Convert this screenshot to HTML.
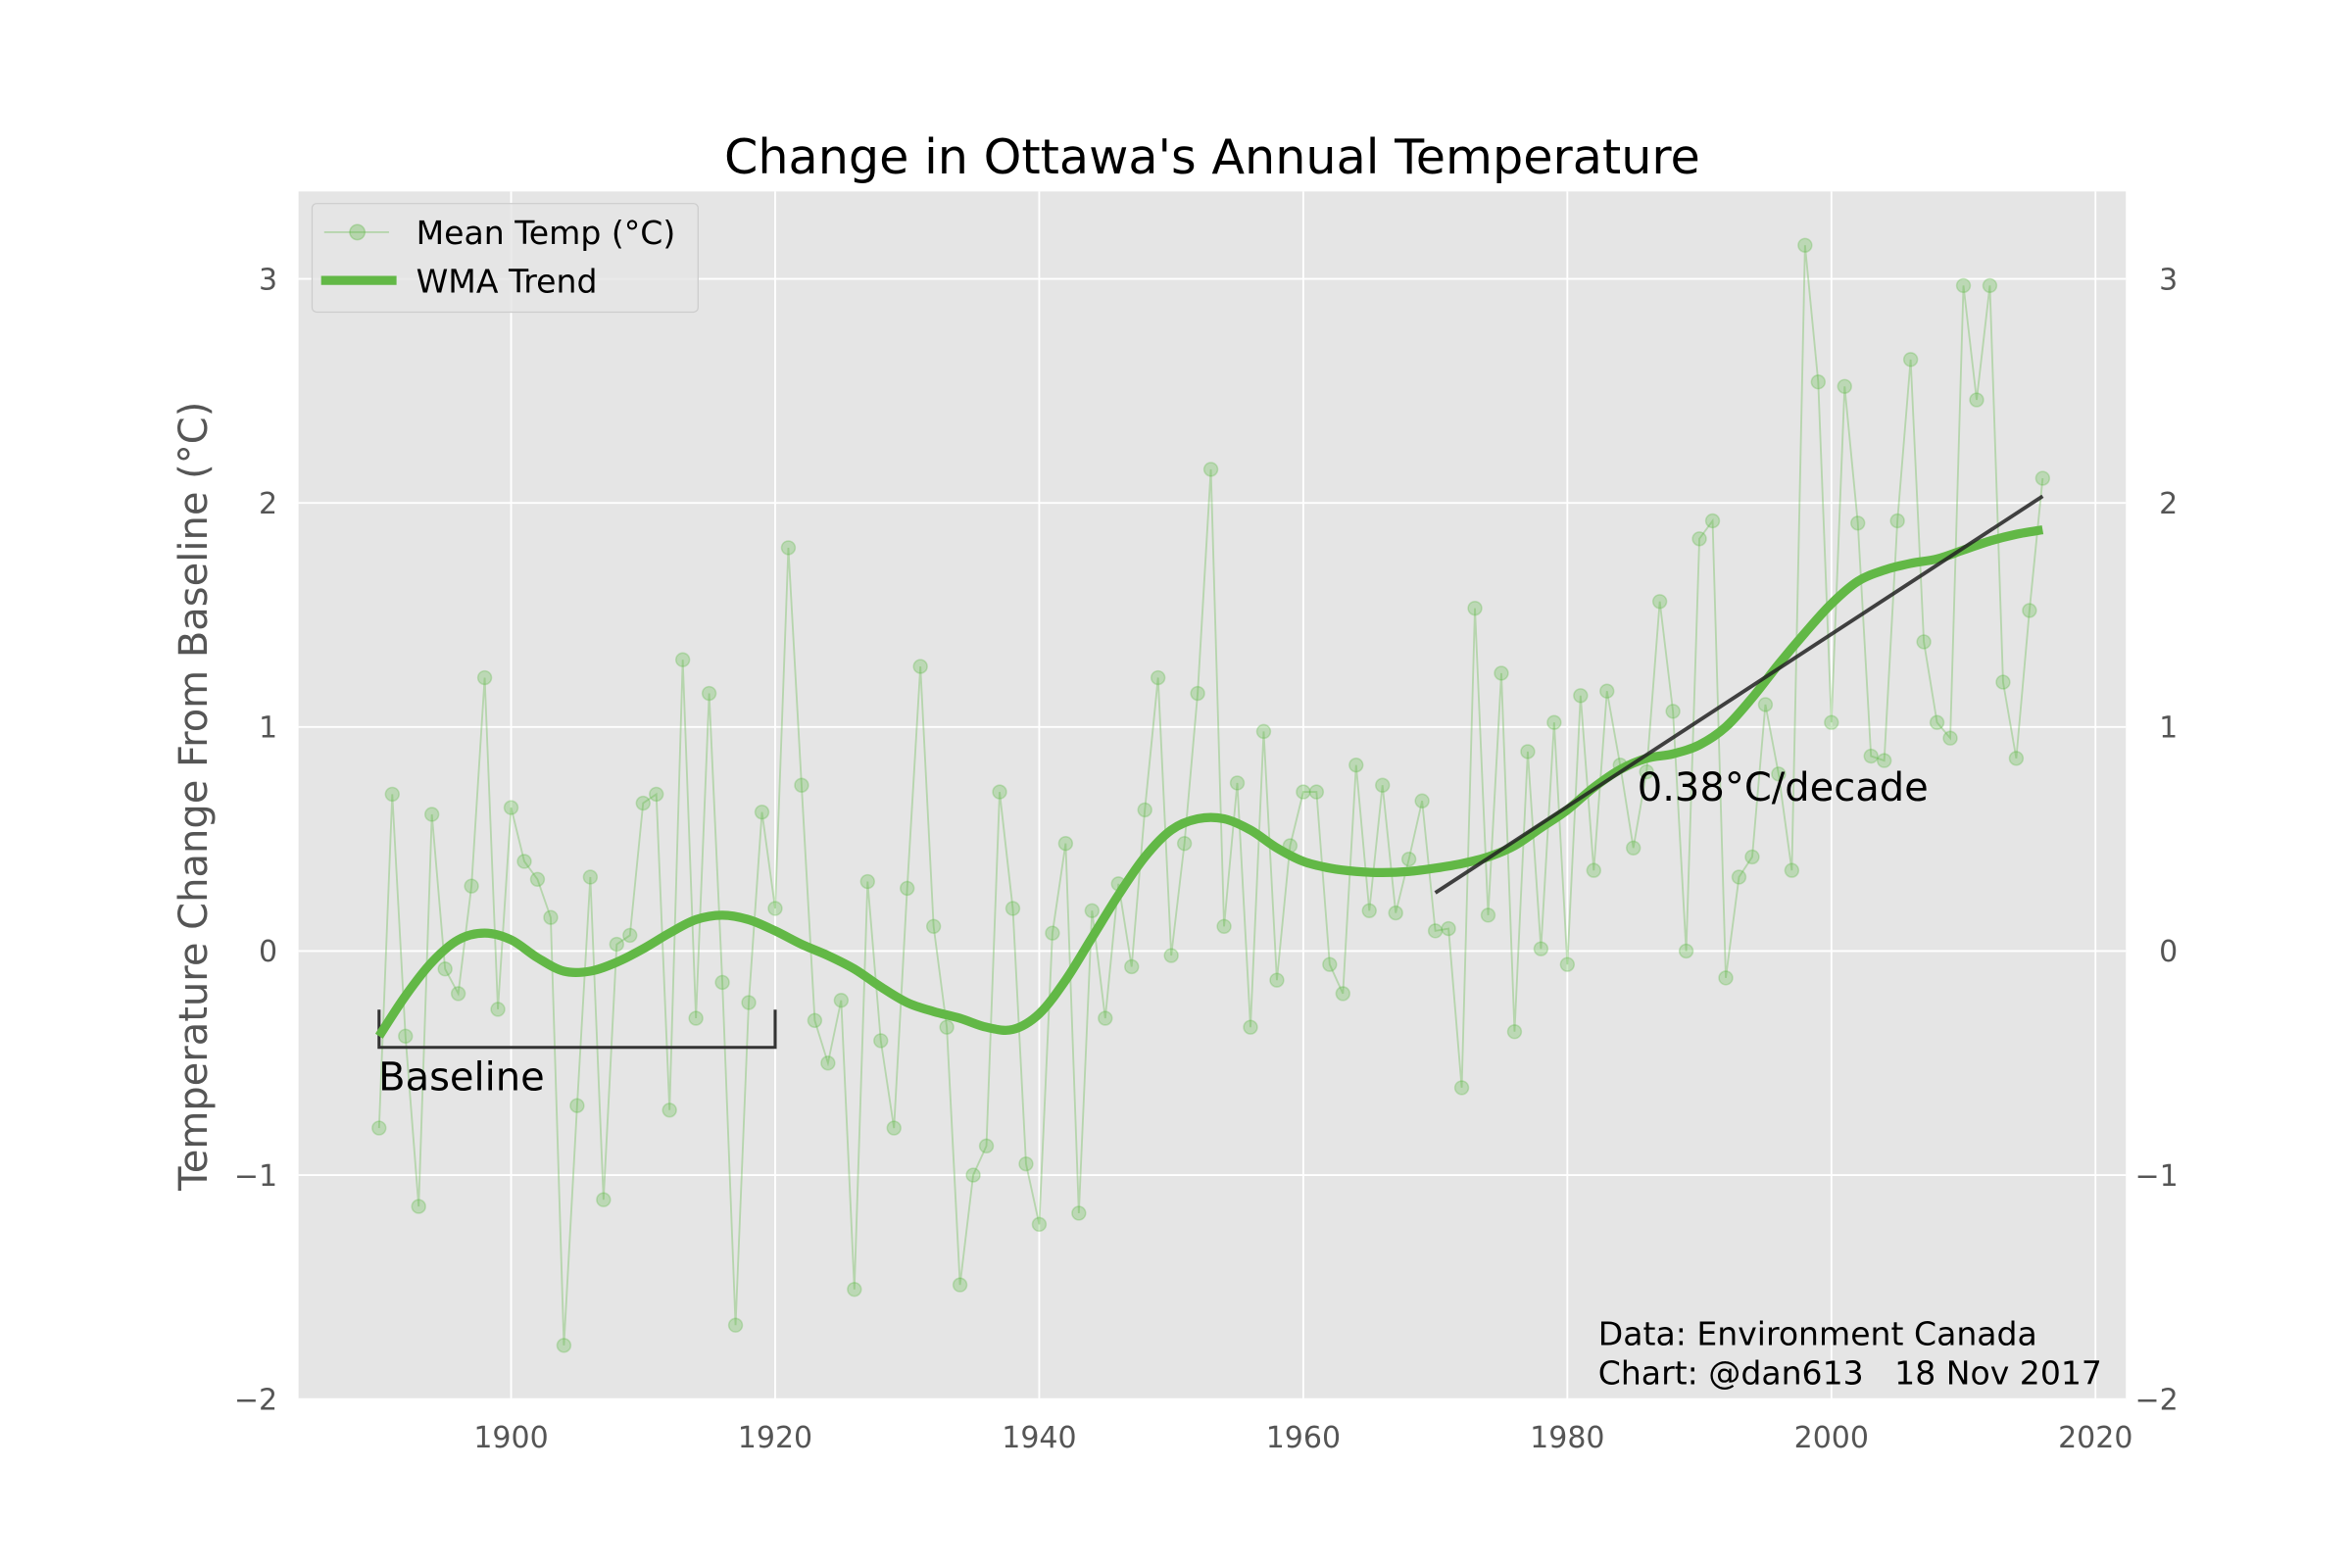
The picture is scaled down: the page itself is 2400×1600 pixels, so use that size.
<!DOCTYPE html>
<html><head><meta charset="utf-8"><style>
html,body{margin:0;padding:0;background:#fff;}
svg{display:block;font-family:"DejaVu Sans","Liberation Sans",sans-serif;}
</style></head><body>
<svg id="chart" width="2400" height="1600" viewBox="0 0 1560 1040" xmlns="http://www.w3.org/2000/svg">
<rect x="0" y="0" width="1560" height="1040" fill="#fff"/>
<text x="804" y="115" font-size="32" text-anchor="middle" fill="#000">Change in Ottawa's Annual Temperature</text>
<rect x="198" y="127" width="1212" height="801" fill="#e5e5e5"/>
<g id="grid"></g>
<g id="ticks"></g>
<g id="marks"></g>
<text transform="translate(137,528) rotate(-90)" font-size="26" text-anchor="middle" fill="#555">Temperature Change From Baseline (°C)</text>
<g id="legend">
<rect x="207" y="135" width="256" height="72" rx="3" fill="#e5e5e5" fill-opacity="0.8" stroke="#ccc" stroke-width="0.8"/>
<line x1="215" y1="154" x2="258" y2="154" stroke="#5eb844" stroke-opacity="0.35" stroke-width="1.2"/>
<circle cx="237" cy="154" r="5" fill="#5eb844" fill-opacity="0.35" stroke="#5eb844" stroke-opacity="0.35"/>
<text x="276" y="162" font-size="21.5" fill="#000">Mean Temp (°C)</text>
<line x1="213" y1="186" x2="263" y2="186" stroke="#62b846" stroke-width="6"/>
<text x="276" y="194" font-size="21.5" fill="#000">WMA Trend</text>
</g>
<text x="1086" y="531" font-size="26" fill="#000">0.38°C/decade</text>
<text x="251" y="723" font-size="26" fill="#000">Baseline</text>
<text x="1060" y="892" font-size="21.5" fill="#000">Data: Environment Canada</text>
<text x="1060" y="918" font-size="21.5" fill="#000" xml:space="preserve">Chart: @dan613   18 Nov 2017</text>
</svg>
<script>
const startYear = 1890;
const meanTemp = [-0.79,0.70,-0.38,-1.14,0.61,-0.08,-0.19,0.29,1.22,-0.26,
0.64,0.40,0.32,0.15,-1.76,-0.69,0.33,-1.11,0.03,0.07,
0.66,0.70,-0.71,1.30,-0.30,1.15,-0.14,-1.67,-0.23,0.62,
0.19,1.80,0.74,-0.31,-0.50,-0.22,-1.51,0.31,-0.40,-0.79,
0.28,1.27,0.11,-0.34,-1.49,-1.00,-0.87,0.71,0.19,-0.95,
-1.22,0.08,0.48,-1.17,0.18,-0.30,0.30,-0.07,0.63,1.22,
-0.02,0.48,1.15,2.15,0.11,0.75,-0.34,0.98,-0.13,0.47,
0.71,0.71,-0.06,-0.19,0.83,0.18,0.74,0.17,0.41,0.67,
0.09,0.10,-0.61,1.53,0.16,1.24,-0.36,0.89,0.01,1.02,
-0.06,1.14,0.36,1.16,0.83,0.46,0.80,1.56,1.07,0.00,
1.84,1.92,-0.12,0.33,0.42,1.10,0.79,0.36,3.15,2.54,
1.02,2.52,1.91,0.87,0.85,1.92,2.64,1.38,1.02,0.95,
2.97,2.46,2.97,1.20,0.86,1.52,2.11];
const trendYears = [1890,1892,1894,1896,1898,1900,1902,1904,1906,1908,1910,1912,1914,1916,1918,1920,1922,1924,1926,1928,1930,1932,1934,1936,1938,1940,1942,1944,1946,1948,1950,1952,1954,1956,1958,1960,1962,1964,1966,1968,1970,1972,1974,1976,1978,1980,1982,1984,1986,1988,1990,1992,1994,1996,1998,2000,2002,2004,2006,2008,2010,2012,2014,2016];
const trendValues = [-0.38,-0.2,-0.05,0.05,0.08,0.05,-0.03,-0.09,-0.09,-0.05,0.01,0.08,0.14,0.16,0.14,0.09,0.03,-0.02,-0.08,-0.16,-0.23,-0.27,-0.30,-0.34,-0.35,-0.28,-0.13,0.06,0.25,0.42,0.54,0.59,0.59,0.54,0.46,0.40,0.37,0.355,0.35,0.355,0.37,0.39,0.42,0.47,0.55,0.63,0.73,0.81,0.86,0.88,0.92,1.00,1.13,1.28,1.42,1.55,1.65,1.70,1.73,1.75,1.79,1.83,1.86,1.88];
const regression = [[1970,0.26],[2016,2.03]];
const baselineRange = [1890,1920];
const baselineLevel = -0.43;
const xTicks = [1900,1920,1940,1960,1980,2000,2020];
const yTicks = [-2,-1,0,1,2,3];

const NS="http://www.w3.org/2000/svg";
const X0=198,X1=1410,Y0=127,Y1=928;
const xMin=1883.9,xMax=2022.3,yMin=-2,yMax=3.39;
function sx(v){return X0+(v-xMin)/(xMax-xMin)*(X1-X0);}
function sy(v){return Y1-(v-yMin)/(yMax-yMin)*(Y1-Y0);}
function mk(tag,attrs,parent){const e=document.createElementNS(NS,tag);for(const k in attrs)e.setAttribute(k,attrs[k]);parent.appendChild(e);return e;}
const grid=document.getElementById('grid'),ticks=document.getElementById('ticks'),marks=document.getElementById('marks');
xTicks.forEach(t=>{
  const l=mk('line',{x1:sx(t),x2:sx(t),y1:Y0,y2:Y1,stroke:'#fff','stroke-width':1.2},grid);
  
  
  const tx=mk('text',{x:sx(t),y:Y1+32,'font-size':19.5,'text-anchor':'middle',fill:'#555'},ticks);
  tx.textContent=t;
  
  
});
yTicks.forEach(t=>{
  const l=mk('line',{x1:X0,x2:X1,y1:sy(t),y2:sy(t),stroke:'#fff','stroke-width':1.2},grid);
  
  
  const lab=t<0?'\u2212'+(-t):String(t);
  const a=mk('text',{x:184,y:sy(t)+7,'font-size':19.5,'text-anchor':'end',fill:'#555'},ticks);
  a.textContent=lab;
  
  
  const b=mk('text',{x:t<0?1416:1432,y:sy(t)+7,'font-size':19.5,'text-anchor':'start',fill:'#555'},ticks);
  b.textContent=lab;
  
  
});
const pts=meanTemp.map((v,i)=>[sx(startYear+i),sy(v)]);
const ml=mk('polyline',{points:pts.map(p=>p.join(',')).join(' '),fill:'none',stroke:'#5eb844','stroke-opacity':0.35,'stroke-width':1.2},marks);


pts.forEach(p=>{
  const c=mk('circle',{cx:p[0],cy:p[1],r:4.5,fill:'#5eb844','fill-opacity':0.3,stroke:'#5eb844','stroke-opacity':0.3},marks);
  
  
});
const bx0=sx(baselineRange[0]),bx1=sx(baselineRange[1]),by=sy(baselineLevel);
const br=mk('polyline',{points:`${bx0},${by-25} ${bx0},${by} ${bx1},${by} ${bx1},${by-25}`,fill:'none',stroke:'#333','stroke-width':2},marks);


const tp=trendYears.map((y,i)=>[sx(y),sy(trendValues[i])]);
let d=`M${tp[0][0]},${tp[0][1]}`;
for(let i=0;i<tp.length-1;i++){
  const p0=tp[Math.max(0,i-1)],p1=tp[i],p2=tp[i+1],p3=tp[Math.min(tp.length-1,i+2)];
  d+=` C${p1[0]+(p2[0]-p0[0])/6},${p1[1]+(p2[1]-p0[1])/6} ${p2[0]-(p3[0]-p1[0])/6},${p2[1]-(p3[1]-p1[1])/6} ${p2[0]},${p2[1]}`;
}
const tr=mk('path',{d:d,fill:'none',stroke:'#62b846','stroke-width':6,'stroke-linecap':'butt'},marks);


const rg=mk('line',{x1:sx(regression[0][0]),y1:sy(regression[0][1]),x2:sx(regression[1][0]),y2:sy(regression[1][1]),stroke:'#222','stroke-opacity':0.85,'stroke-width':2.5},marks);


</script>
</body></html>
